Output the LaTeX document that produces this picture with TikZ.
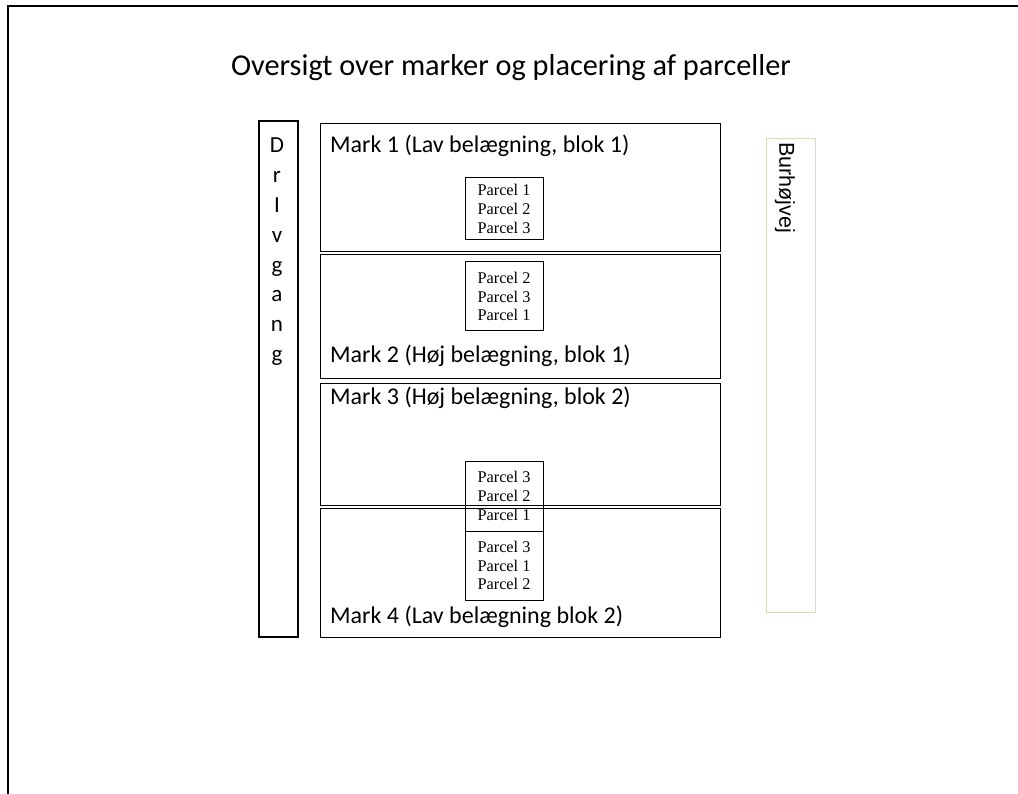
\documentclass[tikz,border=0pt]{standalone}
\usepackage{fontspec}
\setmainfont{Carlito}
\newfontfamily\timesf{Liberation Serif}
\newfontfamily\arialf{Liberation Sans}
\definecolor{roadline}{RGB}{221,216,195}
\begin{document}
\begin{tikzpicture}[x=1pt,y=-1pt,
  frameline/.style={line width=2.4pt},
  markbox/.style={draw, line width=1.4pt, minimum width=400pt, inner sep=0pt, anchor=north west},
  marktext/.style={anchor=west, inner sep=0pt, font=\fontsize{24}{28}\selectfont},
  parcelbox/.style={draw, line width=1pt, minimum width=78pt, inner sep=0pt, align=center,
    font=\timesf\fontsize{16.3}{18.8}\selectfont},
  lanebox/.style={draw, line width=2.2pt, minimum width=39pt, minimum height=516pt, inner sep=0pt, anchor=north west},
  laneletter/.style={inner sep=0pt, font=\fontsize{23}{26}\selectfont},
  roadbox/.style={draw=roadline, line width=1pt, minimum width=49pt, minimum height=474pt, inner sep=0pt, anchor=north west}
]
\useasboundingbox (0,0) rectangle (1018,794);
% page frame
\coordinate (fbl) at (8,800);
\coordinate (ftl) at (8,6);
\coordinate (ftr) at (1024,6);
\draw[frameline] (fbl) -- (ftl) -- (ftr);
% title
\node[font=\fontsize{30.3}{34}\selectfont, inner sep=0pt] (title) at (511,68) {Oversigt over marker og placering af parceller};
% drivgang
\node[lanebox] (lane) at (258,120) {};
\foreach \l [count=\i] in {D,r,I,v,g,a,n,g}
  \node[laneletter, anchor=base] (dg\i) at (277,{153+29.8*(\i-1)}) {\l};
% marks
\node[markbox, minimum height=128pt] (m1) at (320,123) {};
\node[markbox, minimum height=124pt] (m2) at (320,254) {};
\node[markbox, minimum height=122pt] (m3) at (320,383) {};
\node[markbox, minimum height=129pt] (m4) at (320,508) {};
\node[marktext] (t1) at (330,146) {Mark 1 (Lav belægning, blok 1)};
\node[marktext] (t2) at (330,356) {Mark 2 (Høj belægning, blok 1)};
\node[marktext] (t3) at (330,398) {Mark 3 (Høj belægning, blok 2)};
\node[marktext] (t4) at (330,617) {Mark 4 (Lav belægning blok 2)};
% parcels
\node[parcelbox, minimum height=62pt] (p1) at (504,209) {Parcel 1\\Parcel 2\\Parcel 3};
\node[parcelbox, minimum height=69pt] (p2) at (504,296.5) {Parcel 2\\Parcel 3\\Parcel 1};
\node[parcelbox, minimum height=70pt] (p3) at (504,496) {Parcel 3\\Parcel 2\\Parcel 1};
\node[parcelbox, minimum height=69pt] (p4) at (504,565.5) {Parcel 3\\Parcel 1\\Parcel 2};
% road
\node[roadbox] (road) at (766,138) {};
\node[rotate=-90, anchor=west, inner sep=0pt, font=\arialf\fontsize{21.5}{24}\selectfont] (roadname) at (785,142) {Burhøjvej};
\end{tikzpicture}
\end{document}
